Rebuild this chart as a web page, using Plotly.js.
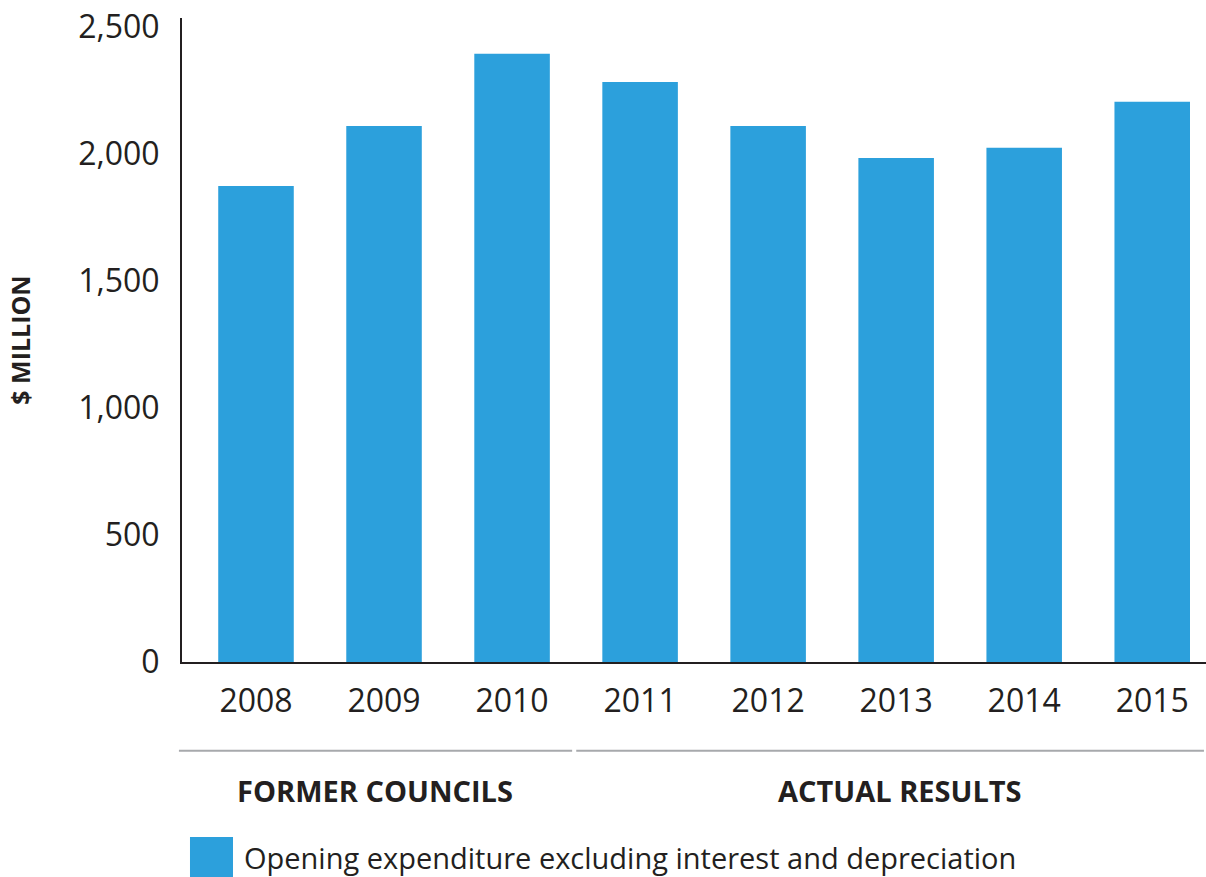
<!DOCTYPE html>
<html>
<head>
<meta charset="utf-8">
<script src="https://cdn.plot.ly/plotly-3.0.1.min.js"></script>
<style>html,body{margin:0;padding:0;background:#fff;}#chart{width:1206px;height:877px;}</style>
</head>
<body>
<div id="chart"></div>
<script>
const years = ['2008','2009','2010','2011','2012','2013','2014','2015'];
const expenditure = [1874, 2110, 2394, 2283, 2110, 1984, 2024, 2205];
const yTicks = [0, 500, 1000, 1500, 2000, 2500];
const groupLabels = ['FORMER COUNCILS', 'ACTUAL RESULTS'];
const seriesName = 'Opening expenditure excluding interest and depreciation';
const yTitle = '$ MILLION';

const barColor = '#2CA0DC';
const ink = '#231F20';
const font = '"Open Sans", Lato, sans-serif';

const trace = {
  type: 'bar',
  x: years,
  y: expenditure,
  name: seriesName,
  marker: {color: barColor},
  width: 0.59,
  showlegend: false,
  hoverinfo: 'x+y'
};

const layout = {
  width: 1206,
  height: 877,
  margin: {l: 182, r: 0, t: 18, b: 215},
  paper_bgcolor: '#fff',
  plot_bgcolor: '#fff',
  font: {family: font, color: ink},
  showlegend: false,
  xaxis: {
    type: 'category',
    range: [-0.578, 7.42],
    showline: true,
    linecolor: ink,
    linewidth: 2,
    ticks: '',
    showgrid: false,
    zeroline: false,
    tickfont: {size: 32, color: ink, family: font},
    ticklabelstandoff: 10
  },
  yaxis: {
    range: [0, 2535],
    tickvals: yTicks,
    tickformat: ',d',
    showline: true,
    linecolor: ink,
    linewidth: 2,
    ticks: '',
    showgrid: false,
    zeroline: false,
    tickfont: {size: 32, color: ink, family: font},
    ticklabelstandoff: 14,
    title: {text: yTitle, font: {size: 25, color: ink, family: font, weight: 'bold'}, standoff: 40}
  },
  shapes: [
    {type: 'line', xref: 'paper', yref: 'paper', x0: -0.003, x1: 0.381, y0: -0.1377, y1: -0.1377, line: {color: '#A7A9AC', width: 2}},
    {type: 'line', xref: 'paper', yref: 'paper', x0: 0.385, x1: 0.998, y0: -0.1377, y1: -0.1377, line: {color: '#A7A9AC', width: 2}},
    {type: 'rect', xref: 'paper', yref: 'paper', x0: 0.0078, x1: 0.0498, y0: -0.2717, y1: -0.3339, fillcolor: barColor, line: {width: 0}}
  ],
  annotations: [
    {xref: 'paper', yref: 'paper', x: 0.1885, y: -0.199, text: groupLabels[0], showarrow: false, xanchor: 'center', yanchor: 'middle', font: {size: 29, color: ink, family: font, weight: 'bold'}},
    {xref: 'paper', yref: 'paper', x: 0.701, y: -0.199, text: groupLabels[1], showarrow: false, xanchor: 'center', yanchor: 'middle', font: {size: 29, color: ink, family: font, weight: 'bold'}},
    {xref: 'paper', yref: 'paper', x: 0.0586, y: -0.3028, text: seriesName, showarrow: false, xanchor: 'left', yanchor: 'middle', font: {size: 29, color: ink, family: font}}
  ]
};

Plotly.newPlot('chart', [trace], layout, {displayModeBar: false, staticPlot: true});
</script>
</body>
</html>
